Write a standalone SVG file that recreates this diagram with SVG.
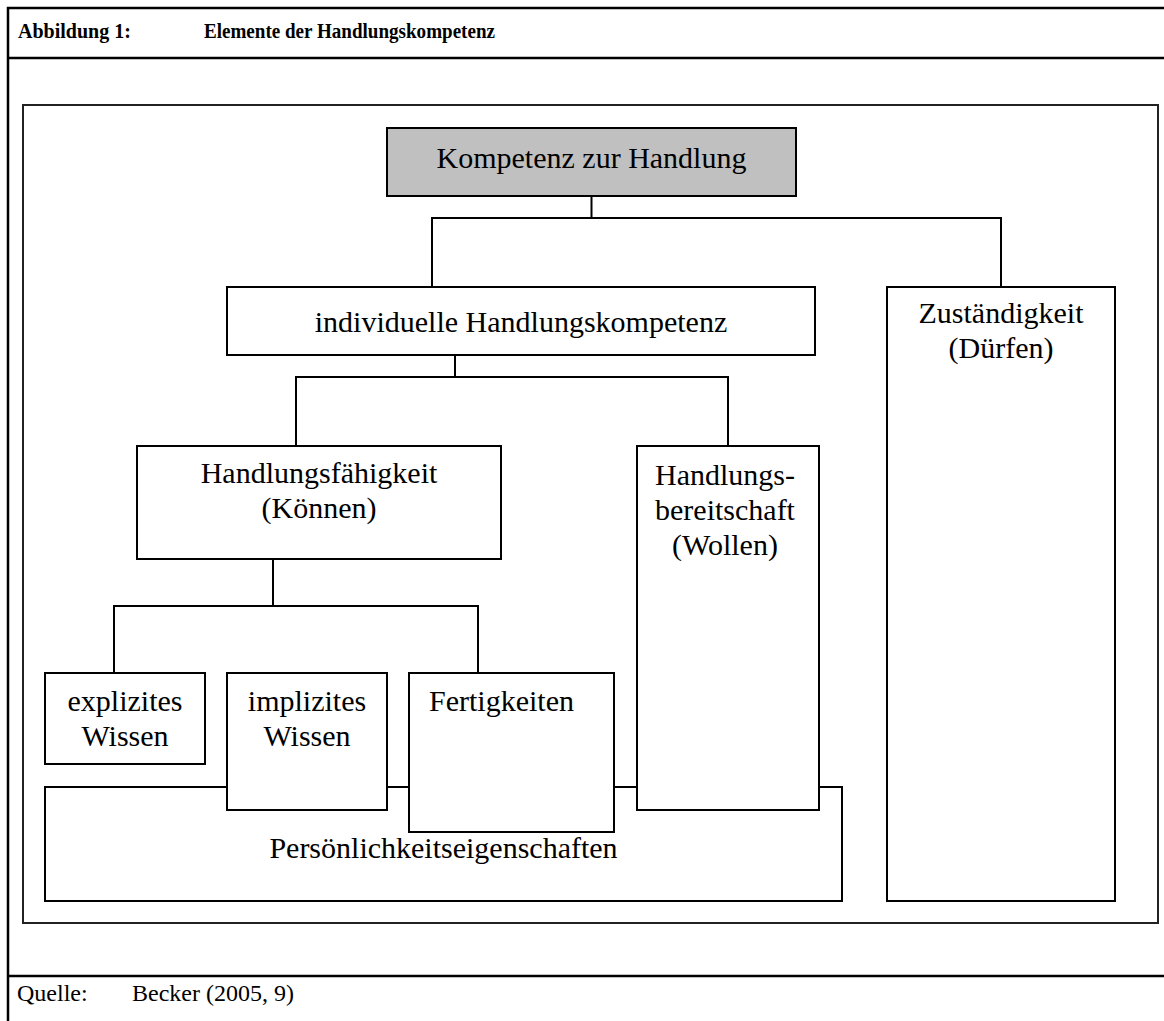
<svg xmlns="http://www.w3.org/2000/svg" width="1164" height="1021" viewBox="0 0 1164 1021">
<style>
  .frame { fill: none; stroke: #000; stroke-width: 2.5; }
  .inner { fill: none; stroke: #222; stroke-width: 2; }
  .box { fill: #fff; stroke: #000; stroke-width: 2; }
  .grey { fill: #c0c0c0; stroke: #000; stroke-width: 2; }
  .conn { fill: none; stroke: #000; stroke-width: 2; }
  .t { font-family: "Liberation Serif", "Times New Roman", serif; font-size: 30px; fill: #000; text-anchor: middle; }
  .title { font-family: "Liberation Serif", "Times New Roman", serif; font-size: 20px; font-weight: bold; fill: #000; }
  .src { font-family: "Liberation Serif", "Times New Roman", serif; font-size: 24px; fill: #000; }
</style>
<rect x="0" y="0" width="1164" height="1021" fill="#fff"/>
<g id="frame">
  <path class="frame" d="M8,1021 V8 H1164 M8,58 H1164 M8,976 H1164"/>
  <text class="title" x="18" y="38">Abbildung 1:</text>
  <text class="title" x="204" y="38" textLength="291" lengthAdjust="spacingAndGlyphs">Elemente der Handlungskompetenz</text>
  <text class="src" x="17" y="1001">Quelle:</text>
  <text class="src" x="132" y="1001">Becker (2005, 9)</text>
  <rect class="inner" x="23" y="105" width="1135" height="818"/>
</g>
<g id="connectors">
  <path class="conn" d="M591.5,196 V218 M432,287 V218 H1001 V287"/>
  <path class="conn" d="M455,355 V377 M296,446 V377 H728 V446"/>
  <path class="conn" d="M273,559 V606 M114,673 V606 H478 V673"/>
</g>
<g id="n-kompetenz">
  <rect class="grey" x="387" y="128" width="409" height="68"/>
  <text class="t" x="591.5" y="168">Kompetenz zur Handlung</text>
</g>
<g id="n-individuell">
  <rect class="box" x="227" y="287" width="588" height="68"/>
  <text class="t" x="521" y="332">individuelle Handlungskompetenz</text>
</g>
<g id="n-zustaendigkeit">
  <rect class="box" x="887" y="287" width="228" height="614"/>
  <text class="t" x="1001" y="323">Zuständigkeit</text>
  <text class="t" x="1001" y="358">(Dürfen)</text>
</g>
<g id="n-faehigkeit">
  <rect class="box" x="137" y="446" width="364" height="113"/>
  <text class="t" x="319" y="483">Handlungsfähigkeit</text>
  <text class="t" x="319" y="518">(Können)</text>
</g>
<g id="n-persoenlichkeit">
  <rect class="box" x="45" y="787" width="797" height="114"/>
  <text class="t" x="443.5" y="858">Persönlichkeitseigenschaften</text>
</g>
<g id="n-explizit">
  <rect class="box" x="45" y="673" width="160" height="91"/>
  <text class="t" x="125" y="711">explizites</text>
  <text class="t" x="125" y="746">Wissen</text>
</g>
<g id="n-implizit">
  <rect class="box" x="227" y="673" width="160" height="137"/>
  <text class="t" x="307" y="711">implizites</text>
  <text class="t" x="307" y="746">Wissen</text>
</g>
<g id="n-fertigkeiten">
  <rect class="box" x="409" y="673" width="205" height="159"/>
  <text class="t" x="501.5" y="711">Fertigkeiten</text>
</g>
<g id="n-bereitschaft">
  <rect class="box" x="637" y="446" width="182" height="364"/>
  <text class="t" x="725" y="485">Handlungs-</text>
  <text class="t" x="725" y="520">bereitschaft</text>
  <text class="t" x="725" y="555">(Wollen)</text>
</g>
</svg>
